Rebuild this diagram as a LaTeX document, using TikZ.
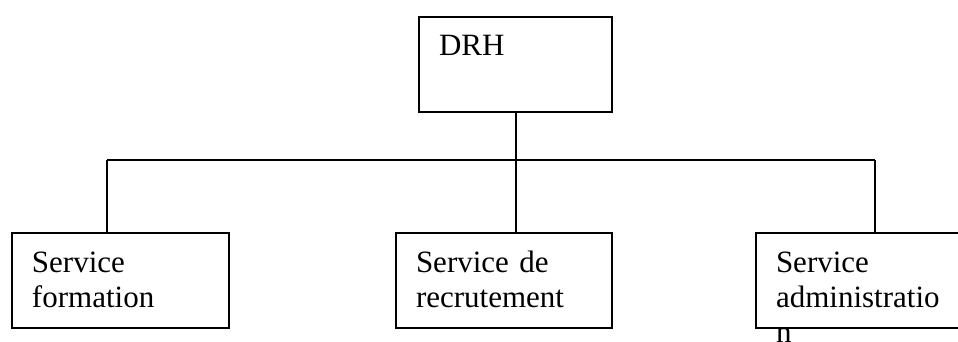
\documentclass[tikz,border=0pt]{standalone}
\usepackage{fontspec}
\setmainfont{Liberation Serif}
\usetikzlibrary{positioning}
\tikzset{unit/.style={draw,line width=1pt,anchor=north west,inner xsep=10pt,inner ysep=0pt,
  align=left,text height=19.5pt,text depth=28pt,font=\fontsize{15.5pt}{17.5pt}\selectfont}}
\begin{document}
\begin{tikzpicture}[x=0.5pt,y=-0.5pt,line width=1pt]
\clip (0,0) rectangle (958,342);
\node[unit,text width=76.5pt] (drh) at (418,16) {DRH};
\node[unit,text width=88.5pt] (form) at (11,232) {Service\\formation};
\node[unit,text width=88pt] (recr) at (395,232) {Service de\\recrutement};
\node[unit,text width=85pt] (admin) at (755,232) {Service\\administratio\\n};
\coordinate (j1) at (107,160);
\coordinate (j3) at (875,160);
\draw
  (drh.south) -- (drh.south |- j1)
  (j1) -- (j3)
  (j1) -- (j1 |- form.north)
  (recr.north -| drh.south) -- (drh.south |- j1)
  (j3) -- (j3 |- admin.north);
\end{tikzpicture}
\end{document}
